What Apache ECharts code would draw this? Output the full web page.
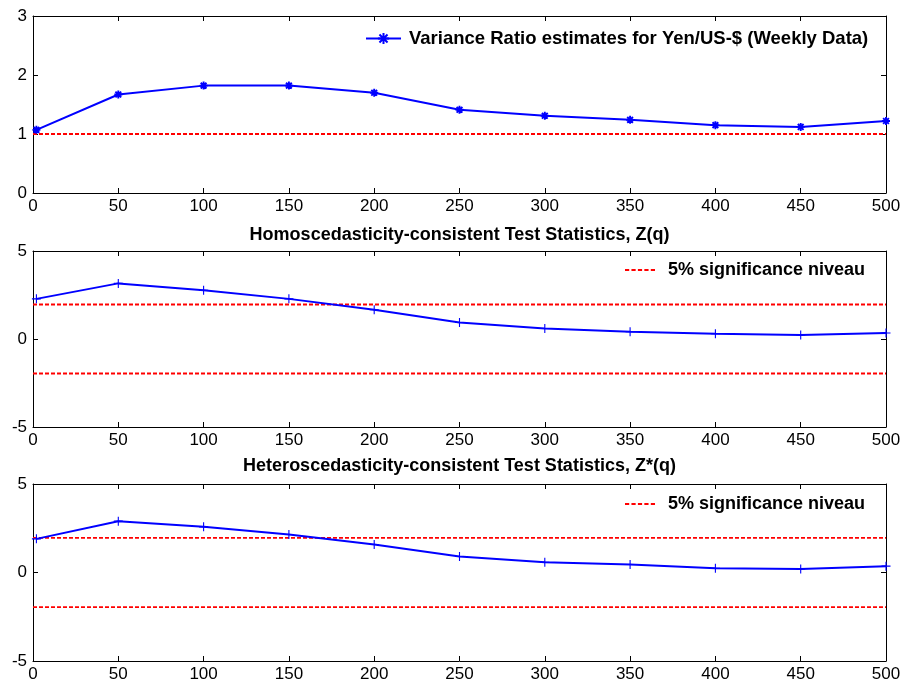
<!DOCTYPE html>
<html>
<head>
<meta charset="utf-8">
<script src="https://cdn.jsdelivr.net/npm/echarts@6/dist/echarts.min.js"></script>
<style>
html,body{margin:0;padding:0;background:#fff;}
#chart{width:906px;height:684px;}
</style>
</head>
<body>
<div id="chart"></div>
<script>
// ---- data ----
const qValues = [2, 50, 100, 150, 200, 250, 300, 350, 400, 450, 500];
const vrEstimates = [1.07, 1.67, 1.82, 1.82, 1.70, 1.41, 1.31, 1.24, 1.15, 1.12, 1.22];
const zHomo = [2.28, 3.16, 2.77, 2.28, 1.66, 0.94, 0.60, 0.41, 0.30, 0.23, 0.34];
const zHetero = [1.90, 2.90, 2.58, 2.15, 1.58, 0.90, 0.58, 0.45, 0.24, 0.20, 0.36];
const xRange = [0, 500];
const vrReference = 1;
const criticalValue = 1.96;
const vrName = 'Variance Ratio estimates for Yen/US-$ (Weekly Data)';
const sigName = '5% significance niveau';
const titleHomo = 'Homoscedasticity-consistent Test Statistics, Z(q)';
const titleHetero = 'Heteroscedasticity-consistent Test Statistics, Z*(q)';

// ---- build ----
const FONT = 'Arial, "Liberation Sans", sans-serif';
const pair = (xs, ys) => xs.map((x, i) => [x, ys[i]]);
const hline = (v) => xRange.map(x => [x, v]);

const grids = [
  {left: 33, width: 853, top: 16, height: 177},
  {left: 33, width: 853, top: 251, height: 176},
  {left: 33, width: 853, top: 484, height: 177}
];
const yDefs = [
  {min: 0, max: 3, interval: 1},
  {min: -5, max: 5, interval: 5},
  {min: -5, max: 5, interval: 5}
];

const axisLine = {show: true, onZero: false, lineStyle: {color: '#000', width: 1}};
const axisTick = {show: true, inside: true, length: 5, lineStyle: {color: '#000', width: 1}};
const axisLabel = {color: '#000', fontSize: 17, fontFamily: FONT};

const xAxis = [], yAxis = [];
grids.forEach((g, i) => {
  xAxis.push({type: 'value', gridIndex: i, position: 'bottom', min: xRange[0], max: xRange[1], interval: 50,
    axisLine, axisTick, splitLine: {show: false}, axisLabel: Object.assign({margin: 5}, axisLabel)});
  xAxis.push({type: 'value', gridIndex: i, position: 'top', min: xRange[0], max: xRange[1], interval: 50,
    axisLine, axisTick, splitLine: {show: false}, axisLabel: {show: false}});
  yAxis.push(Object.assign({type: 'value', gridIndex: i, position: 'left',
    axisLine, axisTick, splitLine: {show: false}, axisLabel: Object.assign({margin: 6}, axisLabel)}, yDefs[i]));
  yAxis.push(Object.assign({type: 'value', gridIndex: i, position: 'right',
    axisLine, axisTick, splitLine: {show: false}, axisLabel: {show: false}}, yDefs[i]));
});

const asterisk = 'path://M0,-5L0,5M-5,0L5,0M-3.6,-3.6L3.6,3.6M-3.6,3.6L3.6,-3.6';
const plus = 'path://M0,-5L0,5M-5,0L5,0';
const dashIcon = 'path://M0,0h4.2v2h-4.2zM6.45,0h4.2v2h-4.2zM12.9,0h4.2v2h-4.2zM19.35,0h4.2v2h-4.2zM25.8,0h4.2v2h-4.2z';

const redLine = (name, idx, v) => ({
  name, type: 'line', xAxisIndex: idx * 2, yAxisIndex: idx * 2, data: hline(v),
  symbol: 'none', silent: true, animation: false,
  lineStyle: {color: '#ff0000', width: 1.8, type: [4, 2]}, itemStyle: {color: '#ff0000'}
});
const blueLine = (name, idx, ys, sym, size, bw) => ({
  name, type: 'line', xAxisIndex: idx * 2, yAxisIndex: idx * 2, data: pair(qValues, ys),
  symbol: sym, symbolSize: size, showSymbol: true, animation: false, z: 5,
  lineStyle: {color: '#0000ff', width: 2},
  itemStyle: {color: '#0000ff', borderColor: '#0000ff', borderWidth: bw}
});

const series = [
  redLine('ref1', 0, vrReference),
  blueLine(vrName, 0, vrEstimates, asterisk, 8, 1.9),
  redLine(sigName, 1, criticalValue),
  redLine('sig2neg', 1, -criticalValue),
  blueLine('zhomo', 1, zHomo, plus, 9, 1.1),
  redLine(sigName, 2, criticalValue),
  redLine('sig3neg', 2, -criticalValue),
  blueLine('zhetero', 2, zHetero, plus, 9, 1.1)
];

const legendText = {color: '#000', fontSize: 18, fontWeight: 'bold', fontFamily: FONT, padding: [0, 0, 0, 8]};
const legendText1 = Object.assign({}, legendText, {fontSize: 18.5, padding: [0, 0, 0, 3]});
const legend = [
  {data: [vrName], left: 365, top: 29, padding: 0, itemWidth: 35, itemHeight: 14, textStyle: legendText1, selectedMode: false},
  {data: [{name: sigName, icon: dashIcon}], left: 625, top: 261, padding: 0, itemWidth: 30, itemHeight: 2, textStyle: legendText, selectedMode: false},
  {data: [{name: sigName, icon: dashIcon}], left: 625, top: 495, padding: 0, itemWidth: 30, itemHeight: 2, textStyle: legendText, selectedMode: false}
];

const titleStyle = {color: '#000', fontSize: 18, fontWeight: 'bold', fontFamily: FONT};
const title = [
  {text: titleHomo, left: 459.5, textAlign: 'center', top: 226, padding: 0, textStyle: titleStyle},
  {text: titleHetero, left: 459.5, textAlign: 'center', top: 457, padding: 0, textStyle: titleStyle}
];

const chart = echarts.init(document.getElementById('chart'), null, {renderer: 'canvas'});
chart.setOption({
  backgroundColor: '#fff',
  animation: false,
  title, legend,
  grid: grids.map(g => Object.assign({show: false, containLabel: false}, g)),
  xAxis, yAxis, series
});
</script>
</body>
</html>
